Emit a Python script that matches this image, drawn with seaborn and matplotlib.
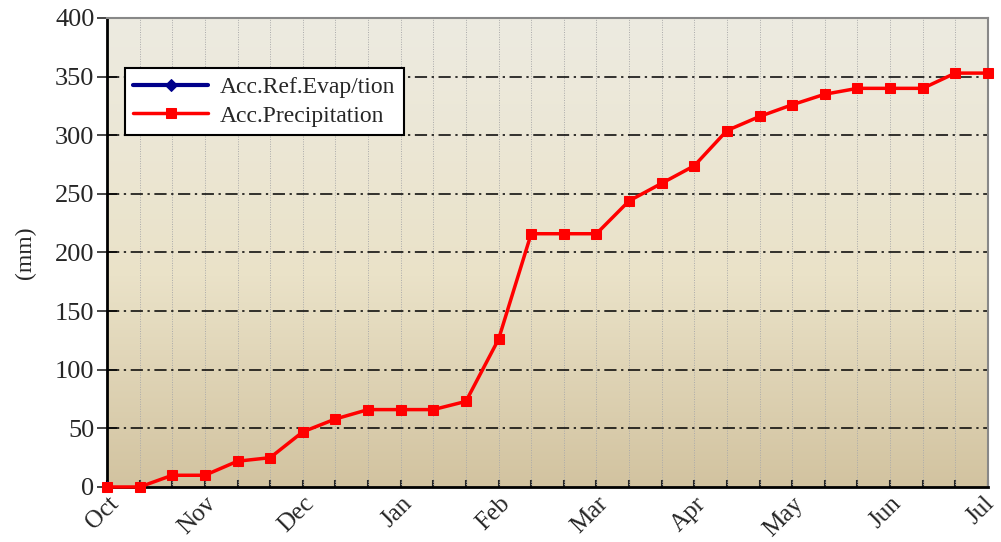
"""Accumulated precipitation vs reference evapotranspiration, Oct-Jul."""

import matplotlib.pyplot as plt
import matplotlib.transforms as mtransforms
import numpy as np
import pandas as pd
import seaborn as sns
from matplotlib.colors import LinearSegmentedColormap

MONTHS = ["Oct", "Nov", "Dec", "Jan", "Feb", "Mar", "Apr", "May", "Jun", "Jul"]
PRECIP = [0, 0, 10, 10, 22, 25, 47, 58, 66, 66, 66, 73, 126, 216,
          216, 216, 244, 259, 274, 304, 316, 326, 335, 340, 340, 340, 353, 353]
EVAP = [0]


def main() -> None:
    sns.set_theme(style="white")
    plt.rcParams["font.family"] = ["Liberation Serif", "DejaVu Serif"]

    n = len(PRECIP)
    precip_df = pd.DataFrame({"step": np.arange(n), "value": PRECIP})
    evap_df = pd.DataFrame({"step": np.arange(len(EVAP)), "value": EVAP})

    fig = plt.figure(figsize=(10.01, 5.42), dpi=100)
    ax = fig.add_axes([0.1069, 0.1015, 0.8801, 0.8653])

    cmap = LinearSegmentedColormap.from_list(
        "bg", [(0.0, "#D2C3A0"), (0.45, "#EAE2C8"), (1.0, "#EDEBE1")])
    grad = np.linspace(0, 1, 256).reshape(-1, 1)
    ax.imshow(grad, cmap=cmap, origin="lower", aspect="auto",
              extent=[0, n - 1, 0, 400], zorder=0)

    sns.lineplot(data=evap_df, x="step", y="value", color="#00008B", marker="D",
                 markersize=6, markeredgecolor="#00008B", linewidth=3,
                 label="Acc.Ref.Evap/tion", ax=ax, zorder=3)
    sns.lineplot(data=precip_df, x="step", y="value", color="#FF0000", marker="s",
                 markersize=7, markeredgecolor="#FF0000", linewidth=2.5,
                 label="Acc.Precipitation", ax=ax, zorder=4, clip_on=False)

    ax.set_xlim(0, n - 1)
    ax.set_ylim(0, 400)
    ax.set_yticks(np.arange(0, 401, 50))
    ax.set_xticks(np.arange(0, n, 3))
    ax.set_xticks(np.arange(n), minor=True)
    ax.set_xticklabels(MONTHS, rotation=45, ha="right", rotation_mode="anchor", fontsize=18)
    ax.tick_params(axis="y", labelsize=19, direction="inout", length=14, width=1.2,
                   left=True, pad=2)
    ax.tick_params(axis="x", which="both", direction="in", length=5, width=1.5,
                   bottom=True, pad=4)
    ax.set_xlabel("")
    ax.set_ylabel("(mm)", fontsize=17, labelpad=14)

    # nudge the last month label so it stays inside the figure
    last = ax.get_xticklabels()[-1]
    last.set_transform(last.get_transform()
                       + mtransforms.ScaledTranslation(-5 / 100, 0, fig.dpi_scale_trans))

    for x in range(1, n - 1):
        ax.axvline(x, color="#AAAAAA", linestyle=(0, (1, 1.5)), linewidth=0.7, zorder=1)
    for y in range(50, 400, 50):
        ax.axhline(y, color="black", linestyle=(0, (8, 3, 1.5, 3)), linewidth=1.1, zorder=2)

    for side in ["left", "bottom"]:
        ax.spines[side].set_color("black")
        ax.spines[side].set_linewidth(2)
    for side in ["top", "right"]:
        ax.spines[side].set_color("#888888")
        ax.spines[side].set_linewidth(1.5)

    leg = ax.legend(loc="upper left", bbox_to_anchor=(0.02, 0.893), fontsize=17,
                    frameon=True, fancybox=False, framealpha=1, edgecolor="black",
                    handlelength=3.2, borderpad=0.35, labelspacing=0.3,
                    borderaxespad=0, handletextpad=0.5)
    leg.get_frame().set_linewidth(1.5)

    fig.savefig("out.png", dpi=100)


if __name__ == "__main__":
    main()
